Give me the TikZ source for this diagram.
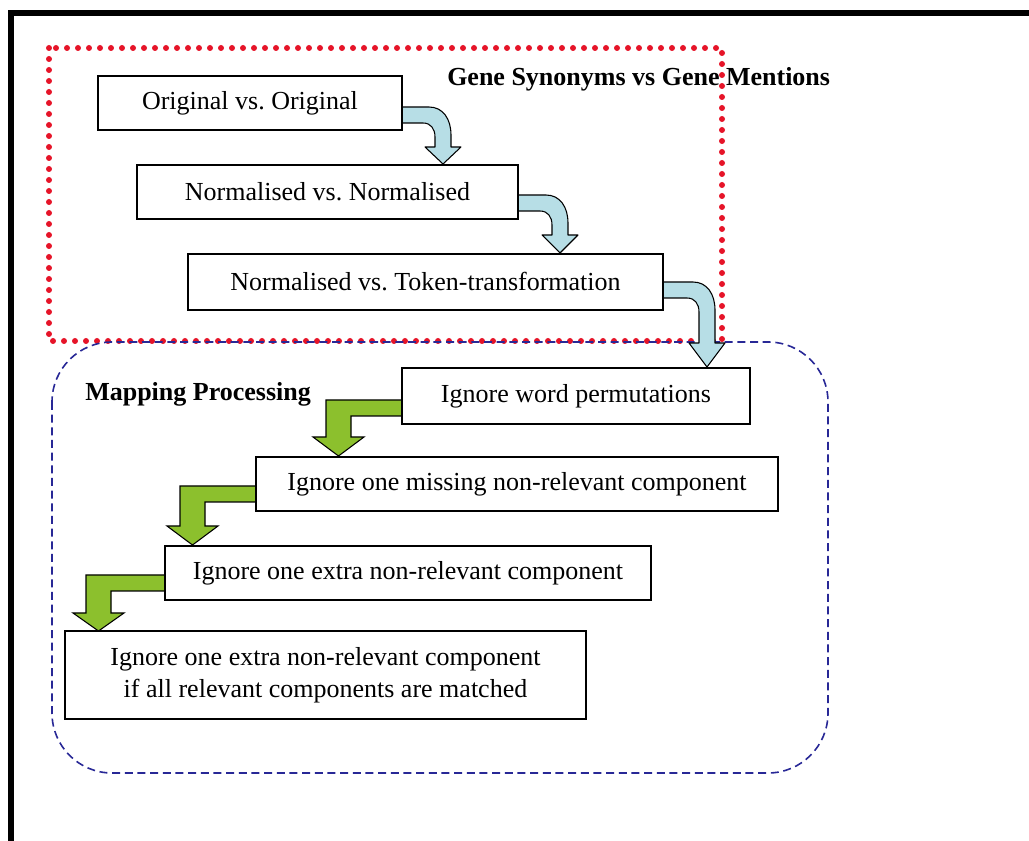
\documentclass[tikz,border=0pt]{standalone}
\usepackage{fontspec}
\setmainfont{Liberation Serif}
\frenchspacing
\begin{document}
\begin{tikzpicture}[x=0.75pt,y=-0.75pt,
  box/.style={draw=black,line width=2.2pt,fill=white,inner sep=0pt,align=center,font=\fontsize{19.5}{24}\selectfont},
  barrow/.style={draw=black,line width=0.8pt,fill=arrowblue,line join=round},
  garrow/.style={draw=black,line width=0.8pt,fill=arrowgreen,line join=miter},
  reddots/.style={draw=dotred,line width=4.5pt,line cap=round,dash pattern=on 0pt off 8.25pt},
  bluedash/.style={draw=dashblue,line width=1.2pt,dash pattern=on 6pt off 3.5pt},
  heading/.style={font=\bfseries\fontsize{19.5}{24}\selectfont,inner sep=0pt,anchor=west}]
\definecolor{arrowblue}{RGB}{183,222,230}
\definecolor{arrowgreen}{RGB}{140,192,45}
\definecolor{dotred}{RGB}{230,20,40}
\definecolor{dashblue}{RGB}{40,40,150}
\useasboundingbox (0,0) rectangle (1029,841);
% frame
\fill[black] (8,10) rectangle (1029,16);
\fill[black] (8,10) rectangle (14,841);
% groups
\draw[reddots] (49,48) rectangle (722,341);
\draw[bluedash,rounded corners=45pt] (52,342) rectangle (828,773);
\node[heading] (t1) at (447,79) {Gene Synonyms vs Gene Mentions};
\node[heading] (t2) at (85,394) {Mapping Processing};
% blue arrows
\newcommand{\bluearr}[5]{%
 \draw[barrow] (#1,#2) -- ({#3-6},#2) .. controls ({#3+8},#2) and ({#3+16},{#2+12}) .. ({#3+16},{#2+28}) -- ({#3+16},#4) -- ({#3+26},#4) -- ({#3+8},#5) -- ({#3-10},#4) -- (#3,#4) -- (#3,{#2+30}) .. controls (#3,{#2+22}) and ({#3-4},{#2+16}) .. ({#3-12},{#2+16}) -- (#1,{#2+16}) -- cycle;}
\newcommand{\greenarr}[5]{%
 \draw[garrow] (#1,#2) -- (#3,#2) -- (#3,#4) -- ({#3-13},#4) -- ({#3+12.5},#5) -- ({#3+38},#4) -- ({#3+25},#4) -- ({#3+25},{#2+16}) -- (#1,{#2+16}) -- cycle;}
\bluearr{395}{107}{435}{147}{164}
\bluearr{511}{195}{552}{235}{253}
\bluearr{656}{282}{699}{343}{367}
\greenarr{408}{400}{326}{437}{456}
\greenarr{262}{486}{180}{526}{545}
\greenarr{171}{575}{86}{613}{631}
% boxes
\node[box,minimum width=228pt,minimum height=40.5pt] (b1) at (250,103) {Original vs. Original};
\node[box,minimum width=285.75pt,minimum height=40.5pt] (b2) at (327.5,192) {Normalised vs. Normalised};
\node[box,minimum width=356.25pt,minimum height=42pt] (b3) at (425.5,282) {Normalised vs. Token-transformation};
\node[box,minimum width=261pt,minimum height=42pt] (b4) at (576,396) {Ignore word permutations};
\node[box,minimum width=391.5pt,minimum height=40.5pt] (b5) at (517,484) {Ignore one missing non-relevant component};
\node[box,minimum width=364.5pt,minimum height=40.5pt] (b6) at (408,573) {Ignore one extra non-relevant component};
\node[box,minimum width=390.75pt,minimum height=66pt] (b7) at (325.5,675) {Ignore one extra non-relevant component\\if all relevant components are matched};
\end{tikzpicture}
\end{document}
